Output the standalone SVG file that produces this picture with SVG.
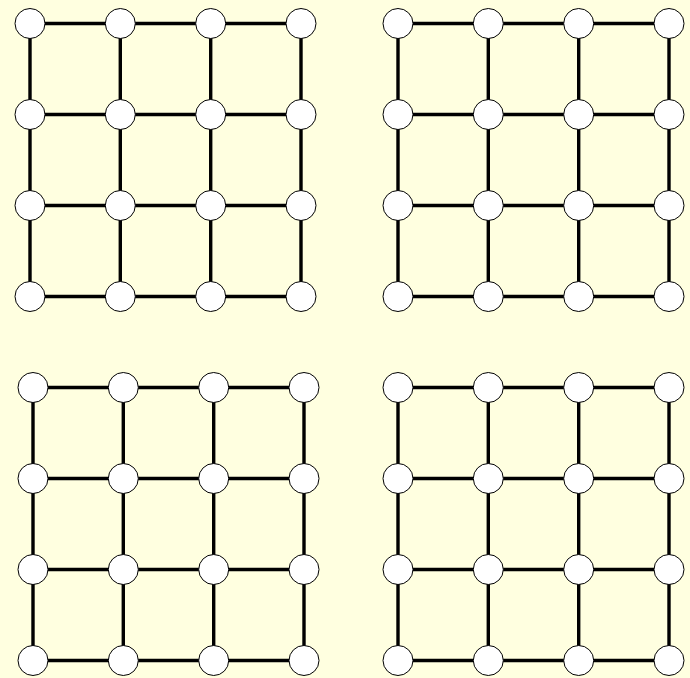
<svg xmlns="http://www.w3.org/2000/svg" width="690" height="678" viewBox="0 0 690 678">
<style>
.e{stroke:#000;stroke-width:3.4;fill:none}
.n{fill:#fff;stroke:#000;stroke-width:1}
</style>
<defs>
<g id="edges">
<path class="e" d="M0 0H271M0 91H271M0 182H271M0 273H271M0 0V273M90.3 0V273M180.7 0V273M271 0V273"/>
</g>
</defs>
<rect width="690" height="678" fill="#ffffe0"/>
<g id="connectors">
<use href="#edges" x="30" y="23.5"/>
<use href="#edges" x="398" y="23.5"/>
<use href="#edges" x="33" y="387.5"/>
<use href="#edges" x="398" y="387.5"/>
</g>
<g id="nodes">
<g id="g1">
<circle class="n" cx="30" cy="23.5" r="15"/><circle class="n" cx="120.3" cy="23.5" r="15"/><circle class="n" cx="210.7" cy="23.5" r="15"/><circle class="n" cx="301" cy="23.5" r="15"/>
<circle class="n" cx="30" cy="114.5" r="15"/><circle class="n" cx="120.3" cy="114.5" r="15"/><circle class="n" cx="210.7" cy="114.5" r="15"/><circle class="n" cx="301" cy="114.5" r="15"/>
<circle class="n" cx="30" cy="205.5" r="15"/><circle class="n" cx="120.3" cy="205.5" r="15"/><circle class="n" cx="210.7" cy="205.5" r="15"/><circle class="n" cx="301" cy="205.5" r="15"/>
<circle class="n" cx="30" cy="296.5" r="15"/><circle class="n" cx="120.3" cy="296.5" r="15"/><circle class="n" cx="210.7" cy="296.5" r="15"/><circle class="n" cx="301" cy="296.5" r="15"/>
</g>
<g id="g2">
<circle class="n" cx="398" cy="23.5" r="15"/><circle class="n" cx="488.3" cy="23.5" r="15"/><circle class="n" cx="578.7" cy="23.5" r="15"/><circle class="n" cx="669" cy="23.5" r="15"/>
<circle class="n" cx="398" cy="114.5" r="15"/><circle class="n" cx="488.3" cy="114.5" r="15"/><circle class="n" cx="578.7" cy="114.5" r="15"/><circle class="n" cx="669" cy="114.5" r="15"/>
<circle class="n" cx="398" cy="205.5" r="15"/><circle class="n" cx="488.3" cy="205.5" r="15"/><circle class="n" cx="578.7" cy="205.5" r="15"/><circle class="n" cx="669" cy="205.5" r="15"/>
<circle class="n" cx="398" cy="296.5" r="15"/><circle class="n" cx="488.3" cy="296.5" r="15"/><circle class="n" cx="578.7" cy="296.5" r="15"/><circle class="n" cx="669" cy="296.5" r="15"/>
</g>
<g id="g3">
<circle class="n" cx="33" cy="387.5" r="15"/><circle class="n" cx="123.3" cy="387.5" r="15"/><circle class="n" cx="213.7" cy="387.5" r="15"/><circle class="n" cx="304" cy="387.5" r="15"/>
<circle class="n" cx="33" cy="478.5" r="15"/><circle class="n" cx="123.3" cy="478.5" r="15"/><circle class="n" cx="213.7" cy="478.5" r="15"/><circle class="n" cx="304" cy="478.5" r="15"/>
<circle class="n" cx="33" cy="569.5" r="15"/><circle class="n" cx="123.3" cy="569.5" r="15"/><circle class="n" cx="213.7" cy="569.5" r="15"/><circle class="n" cx="304" cy="569.5" r="15"/>
<circle class="n" cx="33" cy="660.5" r="15"/><circle class="n" cx="123.3" cy="660.5" r="15"/><circle class="n" cx="213.7" cy="660.5" r="15"/><circle class="n" cx="304" cy="660.5" r="15"/>
</g>
<g id="g4">
<circle class="n" cx="398" cy="387.5" r="15"/><circle class="n" cx="488.3" cy="387.5" r="15"/><circle class="n" cx="578.7" cy="387.5" r="15"/><circle class="n" cx="669" cy="387.5" r="15"/>
<circle class="n" cx="398" cy="478.5" r="15"/><circle class="n" cx="488.3" cy="478.5" r="15"/><circle class="n" cx="578.7" cy="478.5" r="15"/><circle class="n" cx="669" cy="478.5" r="15"/>
<circle class="n" cx="398" cy="569.5" r="15"/><circle class="n" cx="488.3" cy="569.5" r="15"/><circle class="n" cx="578.7" cy="569.5" r="15"/><circle class="n" cx="669" cy="569.5" r="15"/>
<circle class="n" cx="398" cy="660.5" r="15"/><circle class="n" cx="488.3" cy="660.5" r="15"/><circle class="n" cx="578.7" cy="660.5" r="15"/><circle class="n" cx="669" cy="660.5" r="15"/>
</g>
</g>
</svg>
